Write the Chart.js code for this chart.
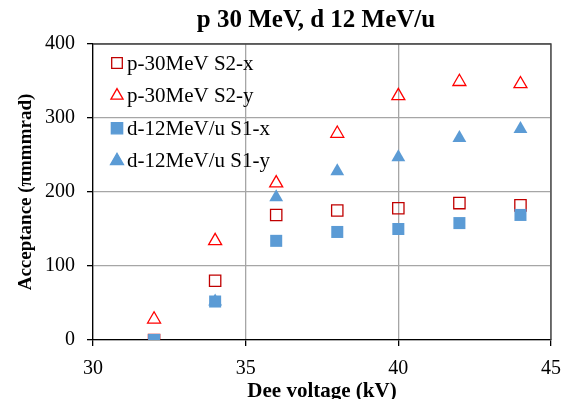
<!DOCTYPE html>
<html>
<head>
<meta charset="utf-8">
<script src="https://cdn.jsdelivr.net/npm/chart.js@4.4.0/dist/chart.umd.min.js"></script>
<style>
  html, body { margin: 0; padding: 0; background: #fff; }
  #wrap { width: 567px; height: 399px; }
</style>
</head>
<body>
<div id="wrap"><canvas id="chart" width="567" height="399"></canvas></div>
<script>
// Dee voltage (kV)
const voltages = [32, 34, 36, 38, 40, 42, 44];
// acceptance values
const p30S2x = [0, 80, 169, 175, 178, 185, 182];
const p30S2y = [28, 134, 212, 279, 330, 349, 346];
const d12S1x = [0, 52, 134, 146, 150, 158, 169];
const d12S1y = [null, 52, 193, 228, 247, 273, 285];
const xTicks = [30, 35, 40, 45];
const yTicks = [0, 100, 200, 300, 400];
const chartTitle = 'p 30 MeV, d 12 MeV/u';

const serif = "'Liberation Serif', 'Times New Roman', serif";

function pts(vals) {
  return voltages.map((v, i) => ({ x: v, y: vals[i] }));
}

// dark frame on top/right of the plot area
const frame = {
  id: 'frame',
  beforeDatasetsDraw(chart) {
    const ctx = chart.ctx;
    const a = chart.chartArea;
    ctx.save();
    ctx.strokeStyle = '#404040';
    ctx.lineWidth = 1.3;
    ctx.beginPath();
    ctx.moveTo(a.left, a.top);
    ctx.lineTo(a.right, a.top);
    ctx.lineTo(a.right, a.bottom);
    ctx.stroke();
    ctx.restore();
  }
};

// title centred over the plot area, legend inside the plot top-left
const decorations = {
  id: 'decorations',
  afterDraw(chart) {
    const ctx = chart.ctx;
    const area = chart.chartArea;
    ctx.save();
    ctx.fillStyle = '#000';
    ctx.font = 'bold 25px ' + serif;
    ctx.textAlign = 'center';
    ctx.textBaseline = 'alphabetic';
    ctx.fillText(chartTitle, (area.left + area.right) / 2 - 6, area.top - 17);

    ctx.font = '21px ' + serif;
    ctx.textAlign = 'left';
    ctx.textBaseline = 'middle';
    chart.data.datasets.forEach((ds, i) => {
      const cy = area.top + 19 + i * 32.6;
      const cx = area.left + 24;
      ctx.strokeStyle = ds.borderColor;
      ctx.fillStyle = ds.backgroundColor;
      ctx.lineWidth = 1.3;
      Chart.helpers.drawPoint(ctx, { pointStyle: ds.pointStyle, radius: ds.pointRadius - 0.5, borderWidth: 1.3 }, cx, cy);
      ctx.fillStyle = '#000';
      ctx.fillText(ds.label, cx + 10, cy + 1);
    });
    ctx.restore();
  }
};

new Chart(document.getElementById('chart'), {
  type: 'scatter',
  data: {
    datasets: [
      { label: 'p-30MeV S2-x', data: pts(p30S2x), pointStyle: 'rect', pointRadius: 8, order: 3,
        borderColor: '#C00000', backgroundColor: 'rgba(0,0,0,0)', borderWidth: 1.3 },
      { label: 'p-30MeV S2-y', data: pts(p30S2y), pointStyle: 'triangle', pointRadius: 7.5, order: 2,
        borderColor: '#FF0000', backgroundColor: 'rgba(0,0,0,0)', borderWidth: 1.3 },
      { label: 'd-12MeV/u S1-x', data: pts(d12S1x), pointStyle: 'rect', pointRadius: 8.5, order: 1,
        borderColor: '#5B9BD5', backgroundColor: '#5B9BD5', borderWidth: 0 },
      { label: 'd-12MeV/u S1-y', data: pts(d12S1y), pointStyle: 'triangle', pointRadius: 8, order: 0,
        borderColor: '#5B9BD5', backgroundColor: '#5B9BD5', borderWidth: 0 }
    ]
  },
  options: {
    responsive: false,
    animation: false,
    layout: { padding: { left: 0, right: 16, top: 44, bottom: 0 } },
    plugins: {
      legend: { display: false },
      tooltip: { enabled: false },
      title: { display: false }
    },
    scales: {
      x: {
        type: 'linear',
        min: xTicks[0],
        max: xTicks[xTicks.length - 1],
        afterBuildTicks: s => { s.ticks = xTicks.map(v => ({ value: v })); },
        afterFit: s => { s.height = 59; s.paddingLeft = 0; s.paddingRight = 0; },
        border: { color: '#000', width: 1.3 },
        grid: { color: '#A6A6A6', lineWidth: 1.3, tickColor: '#000', tickLength: 6 },
        ticks: { color: '#000', font: { family: serif, size: 20 }, padding: 11 },
        title: {
          display: true,
          text: 'Dee voltage (kV)',
          color: '#000',
          font: { family: serif, size: 21, weight: 'bold' },
          padding: { top: 0, bottom: -5 }
        }
      },
      y: {
        min: yTicks[0],
        max: yTicks[yTicks.length - 1],
        afterBuildTicks: s => { s.ticks = yTicks.map(v => ({ value: v })); },
        afterFit: s => { s.width = 93; },
        border: { color: '#000', width: 1.3 },
        grid: { color: '#A6A6A6', lineWidth: 1.3, tickColor: '#000', tickLength: 6 },
        ticks: { color: '#000', font: { family: serif, size: 20 }, padding: 12 },
        title: {
          display: true,
          text: 'Acceptance (πmmmrad)',
          color: '#000',
          font: { family: serif, size: 19, weight: 'bold' },
          padding: { top: 15, bottom: 0 }
        }
      }
    }
  },
  plugins: [frame, decorations]
});
</script>
</body>
</html>
